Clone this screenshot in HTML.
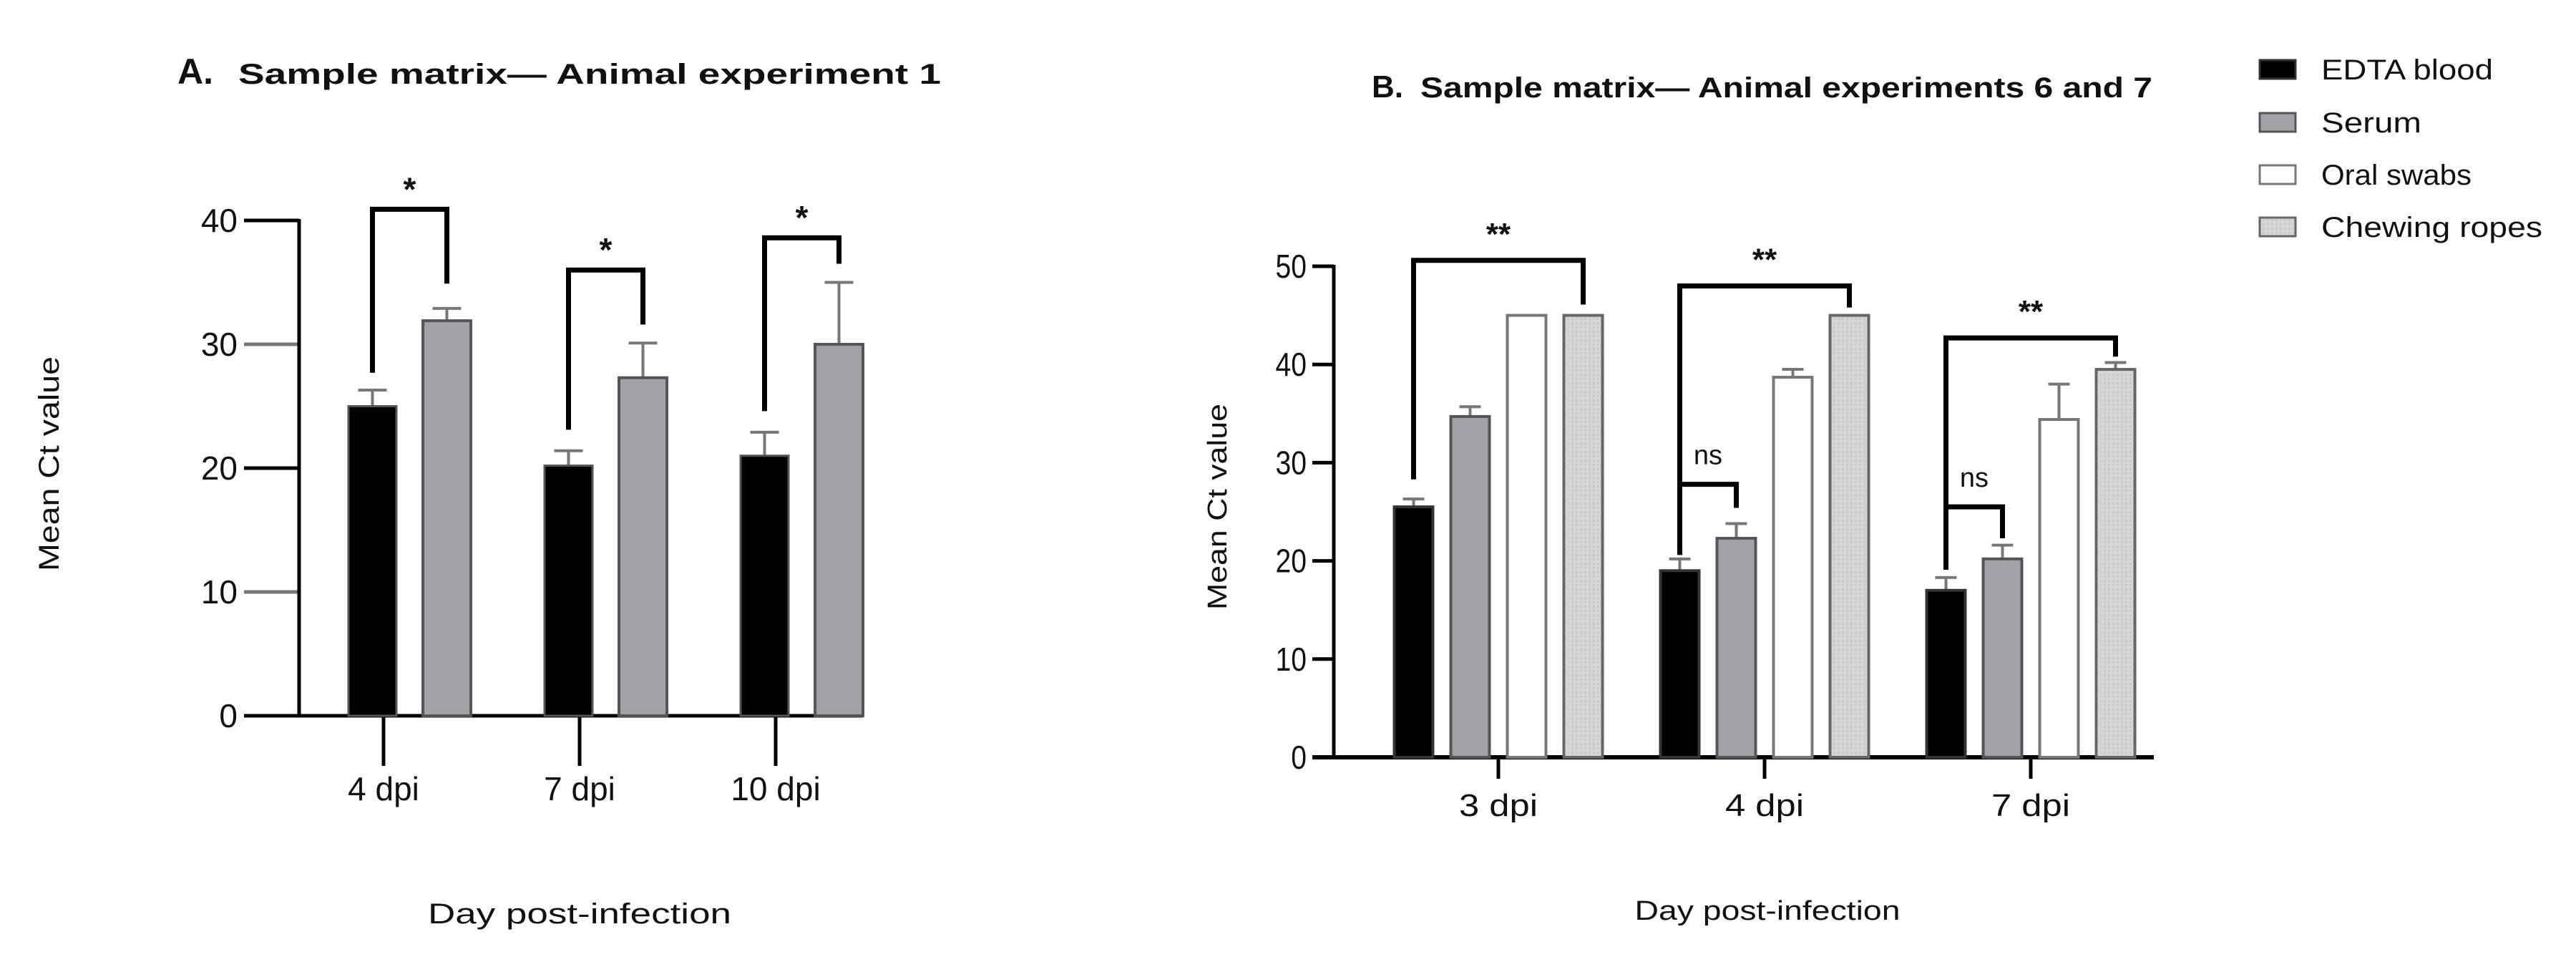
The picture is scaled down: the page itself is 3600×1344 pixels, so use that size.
<!DOCTYPE html>
<html><head><meta charset="utf-8"><style>
html,body{margin:0;padding:0;background:#fff;}
svg{display:block;}
text{font-family:"Liberation Sans",Arial,sans-serif;fill:#111;}
</style></head><body>
<svg id="chart" width="3600" height="1344" viewBox="0 0 3600 1344" xmlns="http://www.w3.org/2000/svg">
<defs>
<pattern id="dots" width="6" height="6" patternUnits="userSpaceOnUse"><rect width="6" height="6" fill="#d6d6d6"/><rect x="0" y="0" width="3" height="3" fill="#c8c8c8"/></pattern>
</defs>
<g id="panelA"></g>
<g id="panelB"></g>
</svg>
<script>
// Panel A data
const catsA = ["4 dpi","7 dpi","10 dpi"];
const bloodA = [25.0, 20.2, 21.0];
const bloodErrA = [1.3, 1.2, 1.9];
const serumA = [31.9, 27.3, 30.0];
const serumErrA = [1.0, 2.8, 5.0];
const ticksA = [0,10,20,30,40];
const bracketTopA = [40.9, 36.0, 38.6];
const bracketLeftA = [27.7, 23.1, 24.6];
const bracketRightA = [34.9, 31.6, 36.5];
const sigA = ["*","*","*"];
// Panel B data
const catsB = ["3 dpi","4 dpi","7 dpi"];
const seriesB = ["EDTA blood","Serum","Oral swabs","Chewing ropes"];
const bloodB = [25.5, 19.0, 17.0];
const bloodErrB = [0.8, 1.2, 1.3];
const serumB = [34.7, 22.3, 20.2];
const serumErrB = [1.0, 1.5, 1.4];
const oralB = [45, 38.7, 34.4];
const oralErrB = [0, 0.8, 3.6];
const chewB = [45, 45, 39.5];
const chewErrB = [0, 0, 0.7];
const ticksB = [0,10,20,30,40,50];
const bigTopB = [50.6, 48.0, 42.7];
const bigLeftB = [28.3, 21.2, 19.4];
const bigRightB = [46.1, 45.8, 40.8];
const bigSigB = ["**","**","**"];
const nsTopB = [null, 27.8, 25.5];
const nsLeftB = [null, 20.6, 19.1];
const nsRightB = [null, 25.4, 22.3];

const NS="http://www.w3.org/2000/svg";
function mk(parent,tag,attrs,text){const e=document.createElementNS(NS,tag);for(const k in attrs)e.setAttribute(k,attrs[k]);if(text!==undefined)e.textContent=text;parent.appendChild(e);return e;}

// ---------- Panel A ----------
const A=document.getElementById('panelA');
const yA=v=>1000-v*17.3;
const xA=i=>536+i*274;
let t;
t=mk(A,'text',{x:248,y:117,'font-size':50,'font-weight':'bold'},'A.');

t=mk(A,'text',{x:333,y:117,'font-size':40,'font-weight':'bold',textLength:982,lengthAdjust:'spacingAndGlyphs'},'Sample matrix\u2014 Animal experiment 1');

t=mk(A,'text',{x:0,y:0,'font-size':40,'text-anchor':'middle',transform:'translate(82,648) rotate(-90)',textLength:300,lengthAdjust:'spacingAndGlyphs'},'Mean Ct value');

t=mk(A,'text',{x:810,y:1290,'font-size':40,'text-anchor':'middle',textLength:424,lengthAdjust:'spacingAndGlyphs'},'Day post-infection');

ticksA.forEach(v=>{
  const l=mk(A,'line',{x1:341,x2:418,y1:yA(v),y2:yA(v),stroke:(v%20===0?'#000':'#777'),'stroke-width':5});
  
  const tx=mk(A,'text',{x:332,y:yA(v)+16,'font-size':46,'text-anchor':'end'},String(v));
  
});
let ax=mk(A,'line',{x1:418,x2:418,y1:yA(40)-2,y2:yA(0),stroke:'#000','stroke-width':5});

ax=mk(A,'line',{x1:341,x2:1206,y1:yA(0),y2:yA(0),stroke:'#000','stroke-width':5});

catsA.forEach((c,i)=>{
  const cx=xA(i);
  const tk=mk(A,'line',{x1:cx,x2:cx,y1:yA(0),y2:yA(0)+70,stroke:'#000','stroke-width':5});
  
  const lb=mk(A,'text',{x:cx,y:1118,'font-size':46,'text-anchor':'middle'},c);
  
  const bx=cx-49, gx=cx+55, w=67;
  const e1=mk(A,'path',{d:`M${bx+w/2},${yA(bloodA[i])} V${yA(bloodA[i]+bloodErrA[i])} M${bx+w/2-20},${yA(bloodA[i]+bloodErrA[i])} H${bx+w/2+20}`,stroke:'#777','stroke-width':4,fill:'none'});
  
  const e2=mk(A,'path',{d:`M${gx+w/2},${yA(serumA[i])} V${yA(serumA[i]+serumErrA[i])} M${gx+w/2-20},${yA(serumA[i]+serumErrA[i])} H${gx+w/2+20}`,stroke:'#777','stroke-width':4,fill:'none'});
  
  const b1=mk(A,'rect',{x:bx,y:yA(bloodA[i]),width:w,height:yA(0)-yA(bloodA[i]),fill:'#000',stroke:'#555','stroke-width':3});
  
  const b2=mk(A,'rect',{x:gx,y:yA(serumA[i]),width:w,height:yA(0)-yA(serumA[i]),fill:'#a2a2a6',stroke:'#555','stroke-width':4});
  
  const lx=bx+w/2, rx=gx+w/2;
  const br=mk(A,'path',{d:`M${lx},${yA(bracketLeftA[i])} V${yA(bracketTopA[i])} H${rx} V${yA(bracketRightA[i])}`,stroke:'#000','stroke-width':7,fill:'none'});
  
  const st=mk(A,'text',{x:(lx+rx)/2,y:yA(bracketTopA[i])-12,'font-size':46,'font-weight':'bold','text-anchor':'middle'},sigA[i]);
  
});

// ---------- Panel B ----------
const B=document.getElementById('panelB');
const yB=v=>1058-v*13.72;
const xB=i=>2094+i*372;
const fills=['#000','#a2a2a6','#fff','url(#dots)'];
const strokes=['#333','#555','#777','#666'];
const valsB=[bloodB,serumB,oralB,chewB];
const errsB=[bloodErrB,serumErrB,oralErrB,chewErrB];
const AXB=1864;
t=mk(B,'text',{x:1917,y:136,'font-size':44,'font-weight':'bold'},'B.');

t=mk(B,'text',{x:1985,y:136,'font-size':40,'font-weight':'bold',textLength:1023,lengthAdjust:'spacingAndGlyphs'},'Sample matrix\u2014 Animal experiments 6 and 7');

t=mk(B,'text',{x:0,y:0,'font-size':38,'text-anchor':'middle',transform:'translate(1714,708) rotate(-90)',textLength:288,lengthAdjust:'spacingAndGlyphs'},'Mean Ct value');

t=mk(B,'text',{x:2470,y:1285,'font-size':38,'text-anchor':'middle',textLength:371,lengthAdjust:'spacingAndGlyphs'},'Day post-infection');

ticksB.forEach(v=>{
  const l=mk(B,'line',{x1:AXB-30,x2:AXB,y1:yB(v),y2:yB(v),stroke:'#000','stroke-width':5});
  
  const tx=mk(B,'text',{x:1826,y:yB(v)+16,'font-size':46,'text-anchor':'end',transform:`translate(${1826*0.15},0) scale(0.85,1)`},String(v));
  
});
ax=mk(B,'line',{x1:AXB,x2:AXB,y1:yB(50)-2,y2:yB(0),stroke:'#000','stroke-width':5});

ax=mk(B,'line',{x1:AXB-30,x2:3010,y1:yB(0),y2:yB(0),stroke:'#000','stroke-width':6});

const step=79, bw=54;
catsB.forEach((c,i)=>{
  const cx=xB(i);
  const tk=mk(B,'line',{x1:cx,x2:cx,y1:yB(0),y2:yB(0)+30,stroke:'#000','stroke-width':5});
  
  const lb=mk(B,'text',{x:cx,y:1140,'font-size':44,'text-anchor':'middle',textLength:110,lengthAdjust:'spacingAndGlyphs'},c);
  
  const centers=[];
  for(let s=0;s<4;s++){
    const bc=cx+(s-1.5)*step; centers.push(bc);
    const v=valsB[s][i], e=errsB[s][i];
    if(e>0){
      const eb=mk(B,'path',{d:`M${bc},${yB(v)} V${yB(v+e)} M${bc-15},${yB(v+e)} H${bc+15}`,stroke:'#777','stroke-width':4,fill:'none'});
      
    }
    const r=mk(B,'rect',{x:bc-bw/2,y:yB(v),width:bw,height:yB(0)-yB(v),fill:fills[s],stroke:strokes[s],'stroke-width':4});
    
    
  }
  const br=mk(B,'path',{d:`M${centers[0]},${yB(bigLeftB[i])} V${yB(bigTopB[i])} H${centers[3]} V${yB(bigRightB[i])}`,stroke:'#000','stroke-width':7,fill:'none'});
  
  const st=mk(B,'text',{x:(centers[0]+centers[3])/2,y:yB(bigTopB[i])-22,'font-size':44,'font-weight':'bold','text-anchor':'middle'},bigSigB[i]);
  
  if(nsTopB[i]!==null){
    const nb=mk(B,'path',{d:`M${centers[0]},${yB(nsLeftB[i])} V${yB(nsTopB[i])} H${centers[1]} V${yB(nsRightB[i])}`,stroke:'#000','stroke-width':7,fill:'none'});
    
    const nt=mk(B,'text',{x:(centers[0]+centers[1])/2,y:yB(nsTopB[i])-28,'font-size':38,'text-anchor':'middle',fill:'#555'},'ns');
    
  }
});
// legend
const legY=[97,171,244,317];
seriesB.forEach((s,k)=>{
  const g=mk(B,'g',{});
  
  
  mk(g,'rect',{x:3158,y:legY[k]-13,width:50,height:26,fill:fills[k],stroke:strokes[k],'stroke-width':3});
  mk(g,'text',{x:3244,y:legY[k]+14,'font-size':40,textLength:[240,140,210,309][k],lengthAdjust:'spacingAndGlyphs'},s);
});
</script>
</body></html>
